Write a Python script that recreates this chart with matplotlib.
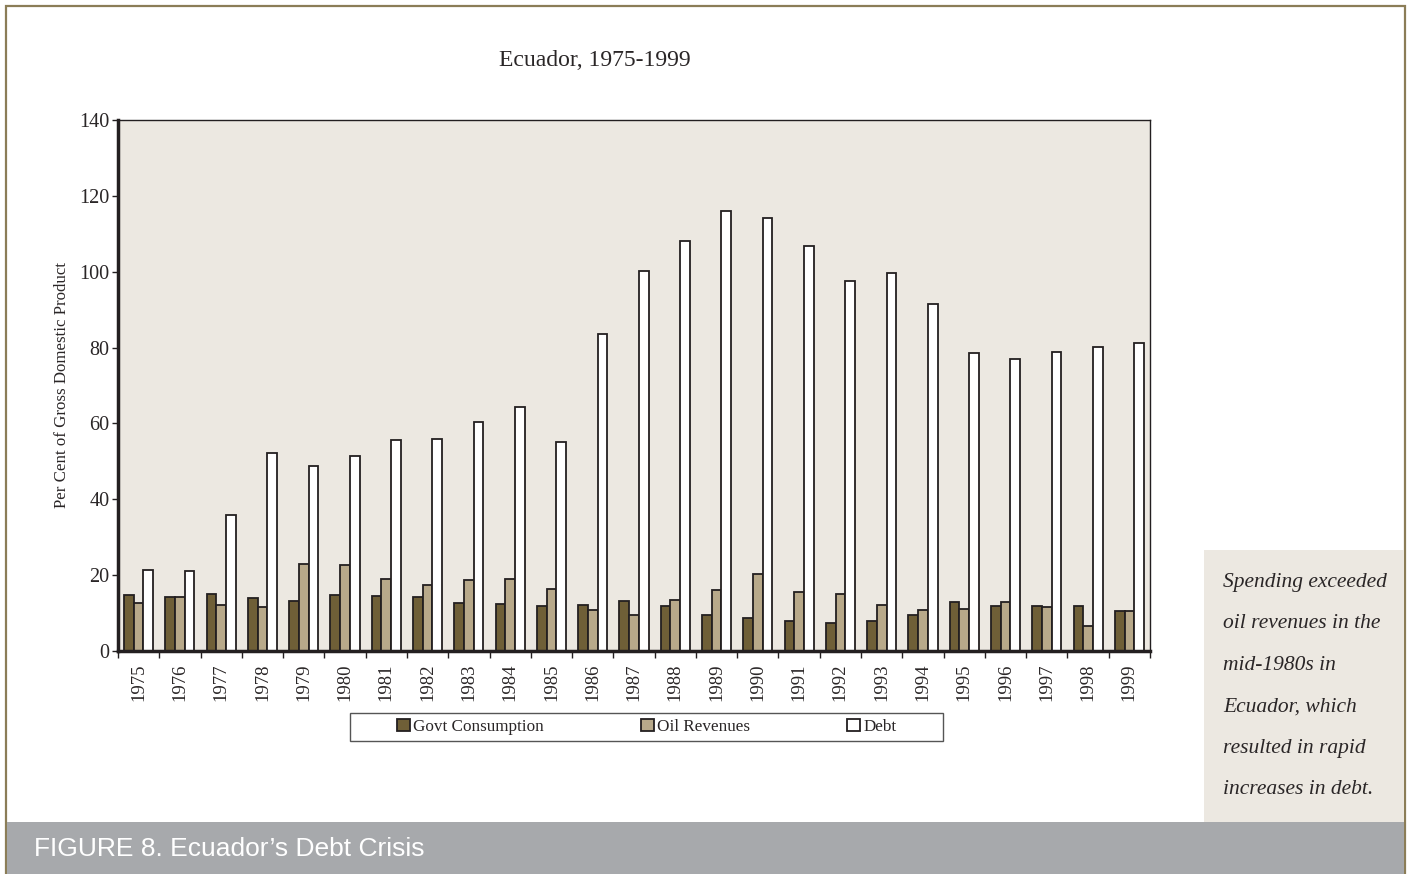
import numpy as np
import matplotlib
matplotlib.use("Agg")
import matplotlib.pyplot as plt
from matplotlib.patches import Rectangle

years = [str(y) for y in range(1975, 2000)]
govt = [14.8, 14.2, 15.1, 14.0, 13.1, 14.8, 14.4, 14.2, 12.7, 12.4, 11.8, 12.2, 13.1,
        11.8, 9.5, 8.8, 7.9, 7.5, 7.9, 9.6, 12.8, 11.9, 11.8, 11.9, 10.6]
oil = [12.7, 14.2, 12.2, 11.7, 23.0, 22.7, 18.9, 17.5, 18.7, 19.1, 16.3, 10.7, 9.5,
       13.5, 16.0, 20.2, 15.6, 15.1, 12.1, 10.8, 11.1, 12.9, 11.5, 6.5, 10.6]
debt = [21.3, 21.2, 35.9, 52.2, 48.7, 51.4, 55.5, 56.0, 60.3, 64.4, 55.0, 83.5, 100.2,
        108.1, 116.0, 114.1, 106.7, 97.6, 99.6, 91.4, 78.7, 76.9, 78.8, 80.1, 81.2]

W, H = 1407, 874
serif = "Liberation Serif"
edge = "#231f20"
beige = "#ece8e1"
ink = "#2a2627"

fig = plt.figure(figsize=(W / 100, H / 100), dpi=100)
fig.patch.set_facecolor("white")

# outer frame and footer band
fig.add_artist(Rectangle((6 / W, 0), 1399 / W, 1 - 6 / H, transform=fig.transFigure,
                         facecolor="none", edgecolor="#8b7d57", linewidth=1.6))
fig.add_artist(Rectangle((7 / W, 0), 1397 / W, 52 / H, transform=fig.transFigure,
                         facecolor="#a7a9ac", edgecolor="none"))
fig.text(34 / W, 25 / H, "FIGURE 8. Ecuador\u2019s Debt Crisis", color="white",
         fontsize=19, family="Liberation Sans", va="center", ha="left")

# side note
fig.add_artist(Rectangle((1204 / W, 52 / H), 200 / W, 272 / H, transform=fig.transFigure,
                         facecolor=beige, edgecolor="none"))
note = ["Spending exceeded", "oil revenues in the", "mid-1980s in",
        "Ecuador, which", "resulted in rapid", "increases in debt."]
for i, line in enumerate(note):
    fig.text(1223 / W, 1 - (582 + i * 41.6) / H, line, family=serif, style="italic",
             fontsize=15.5, color=ink, va="center", ha="left")

ax = fig.add_axes([118 / W, 1 - 651 / H, (1150 - 118) / W, (651 - 120) / H])
ax.set_facecolor(beige)

x = np.arange(len(years))
bw = 0.235
kw = dict(edgecolor=edge, linewidth=1.3)
ax.bar(x - bw, govt, bw, color="#6f5f37", label="Govt Consumption", **kw)
ax.bar(x, oil, bw, color="#b8a98a", label="Oil Revenues", **kw)
ax.bar(x + bw, debt, bw, color="white", label="Debt", **kw)

ax.set_xlim(-0.5, len(years) - 0.5)
ax.set_ylim(0, 140)
ax.set_yticks(range(0, 141, 20))
ax.set_xticks(x)
ax.set_xticklabels(years, rotation=90, family=serif, fontsize=13.5, color=ink)
ax.set_xticks(np.arange(-0.5, len(years), 1), minor=True)
ax.tick_params(axis="x", which="major", length=0, pad=9)
ax.tick_params(axis="x", which="minor", length=5, width=1, color=edge, direction="out")
ax.tick_params(axis="y", length=4, width=1, color=edge, direction="out", pad=2,
               labelsize=14.5, labelcolor=ink)
for lab in ax.get_yticklabels():
    lab.set_family(serif)

for s in ["top", "right"]:
    ax.spines[s].set_linewidth(1.0)
    ax.spines[s].set_color(edge)
ax.spines["left"].set_linewidth(2.5)
ax.spines["bottom"].set_linewidth(2.5)
ax.spines["left"].set_color(edge)
ax.spines["bottom"].set_color(edge)

ax.set_ylabel("Per Cent of Gross Domestic Product", family=serif, fontsize=12.2,
              color=ink, labelpad=7)
fig.text(595 / W, 1 - 61 / H, "Ecuador, 1975-1999", family=serif, fontsize=17,
         color=ink, ha="center", va="center")

# legend
fig.add_artist(Rectangle((350 / W, 1 - 741 / H), 593 / W, 28 / H, transform=fig.transFigure,
                         facecolor="white", edgecolor="#555555", linewidth=1.0))
leg = fig.legend(loc="center", bbox_to_anchor=(646.5 / W, 1 - 727 / H), ncol=3,
                 frameon=False, prop={"family": serif, "size": 12.3},
                 handlelength=0.76, handleheight=0.76, handletextpad=0.18,
                 columnspacing=5.7)
for t in leg.get_texts():
    t.set_color(ink)

fig.savefig("out.png", dpi=100)
